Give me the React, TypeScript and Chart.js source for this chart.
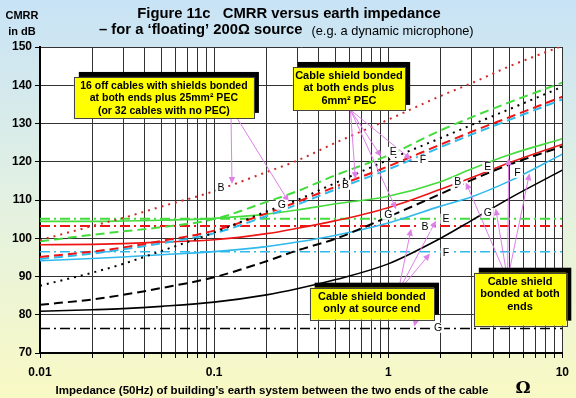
import React, { useEffect, useRef } from 'react';
import { Chart, registerables } from 'chart.js';

Chart.register(...registerables);

// ---------- data ----------
const impedance = [0.01, 0.02, 0.03, 0.05, 0.1, 0.2, 0.3, 0.5, 1, 2, 3, 5, 10];

// 16 off cables bonded at both ends plus 25mm² PEC (dotted)
const pec25B = [99.5, 103.2, 105.3, 108.3, 112.3, 117.3, 120.3, 125, 131, 137.2, 140.5, 145, 150.3];
const pec25G = [87.6, 91, 93.3, 96.7, 101.5, 107, 110, 114.5, 120.5, 126.2, 129.6, 133.8, 139.6];

// Cable shield bonded at both ends plus 6mm² PEC (dashed)
const pec6E = [99.2, 100.9, 101.8, 102.9, 105, 109.5, 112.3, 116.5, 121.7, 128.2, 131.6, 135.6, 140.7];
const pec6B = [95.1, 96.5, 97.6, 99.3, 102, 106.5, 109.5, 113.5, 118.8, 124.5, 127.8, 131.7, 137];
const pec6F = [94.6, 96, 97.1, 98.7, 101.3, 105.8, 108.8, 112.8, 118, 123.8, 127.1, 131, 136.3];
const pec6G = [82.6, 84, 85.2, 87, 89.8, 94, 96.8, 99.9, 105.6, 111.6, 115.2, 119.3, 124];

// Cable shield bonded at both ends (solid)
const bothE = [104.4, 104.4, 104.5, 104.7, 105.2, 106.3, 107.4, 109, 111, 114.8, 118.1, 121.9, 126];
const bothB = [98.3, 98.4, 98.6, 99, 99.6, 101.2, 102.6, 104.6, 108, 112.8, 115.8, 119.8, 124.6];
const bothF = [94.1, 94.7, 95.1, 95.7, 96.5, 97.8, 99, 100.8, 104, 108.4, 110.8, 115, 122];
const bothG = [80.9, 81.3, 81.6, 82.2, 83.3, 85.2, 86.8, 89.2, 93.3, 100, 104.6, 110.5, 117.8];

// Cable shield bonded only at source end (dash-dot)
const srcE = [105.1, 105.1, 105.1, 105.1, 105.1, 105.1, 105.1, 105.1, 105.1, 105.1, 105.1, 105.1, 105.1];
const srcB = [103.2, 103.2, 103.2, 103.2, 103.2, 103.2, 103.2, 103.2, 103.2, 103.2, 103.2, 103.2, 103.2];
const srcF = [96.5, 96.5, 96.5, 96.5, 96.5, 96.5, 96.5, 96.5, 96.5, 96.5, 96.5, 96.5, 96.5];
const srcG = [76.4, 76.4, 76.4, 76.4, 76.4, 76.4, 76.4, 76.4, 76.4, 76.4, 76.4, 76.4, 76.4];

const xTickValues = [
  0.01, 0.02, 0.03, 0.04, 0.05, 0.06, 0.07, 0.08, 0.09,
  0.1, 0.2, 0.3, 0.4, 0.5, 0.6, 0.7, 0.8, 0.9,
  1, 2, 3, 4, 5, 6, 7, 8, 9, 10,
];
const xTickLabelValues = [0.01, 0.1, 1, 10];
const xTickLabels = ['0.01', '0.1', '1', '10'];

// annotation boxes: [zLeft, zRight, dBTop, dBBottom]
const boxes = [
  { area: [0.01564, 0.1693, 142.17, 131.46], lines: ['16 off cables with shields bonded', 'at both ends plus 25mm\u00B2 PEC', '(or 32 cables with no PEC)'], size: 10.5 },
  { area: [0.2828, 1.251, 144.78, 133.55], lines: ['Cable shield bonded', 'at both ends plus', '6mm\u00B2 PEC'], size: 11 },
  { area: [0.3537, 1.832, 87.08, 78.72], lines: ['Cable shield bonded', 'only at source end'], size: 11 },
  { area: [3.1, 10.54, 90.99, 77.15], lines: ['Cable shield', 'bonded at both', 'ends'], size: 11 },
];

// arrows: [fromZ, fromDB, toZ, toDB]
const arrows = [
  [0.1251, 131.46, 0.1267, 114.2],
  [0.1353, 131.46, 0.2683, 109.5],
  [0.6066, 133.55, 0.912, 121.3],
  [0.6066, 133.55, 1.353, 120.6],
  [0.6066, 133.55, 0.6478, 115.5],
  [0.6066, 133.55, 1.111, 107.6],
  [1.141, 86.03, 1.881, 104.6],
  [1.141, 86.03, 1.353, 102.5],
  [1.141, 86.03, 1.738, 96.0],
  [1.445, 78.72, 1.408, 76.9],
  [4.85, 89.16, 4.914, 121.0],
  [4.85, 89.16, 2.791, 114.6],
  [4.85, 89.16, 6.478, 117.0],
  [4.85, 89.16, 4.141, 107.8],
];

// line letters: [text, z, dB]
const letters: [string, number, number][] = [
  ['B', 0.1097, 113.2],
  ['G', 0.2446, 108.75],
  ['B', 0.568, 113.97],
  ['E', 1.068, 122.58],
  ['F', 1.585, 120.5],
  ['G', 1.0, 106.14],
  ['E', 3.728, 118.67],
  ['B', 2.512, 114.75],
  ['F', 5.533, 117.1],
  ['G', 3.728, 106.66],
  ['E', 2.145, 105.1],
  ['B', 1.627, 103.0],
  ['F', 2.145, 96.2],
  ['G', 1.931, 76.6],
];

// ---------- styles ----------
const FONT = '"Liberation Sans", Arial, sans-serif';
const GREEN = '#44dc3c';
const RED = '#ee1515';
const RED_DOT = '#d02a2a';
const CYAN = '#2fb9ec';
const BLACK = '#000000';
const ARROW = '#de7fe8';
const DOTTED = [2, 5];
const DASHED = [9, 5];
const DASHDOT = [10, 4, 2, 4];

const series = [
  { d: pec25B, c: RED_DOT, dash: DOTTED, w: 2 },
  { d: pec25G, c: BLACK, dash: DOTTED, w: 2 },
  { d: pec6E, c: GREEN, dash: DASHED, w: 2 },
  { d: pec6B, c: RED, dash: DASHED, w: 2 },
  { d: pec6F, c: CYAN, dash: DASHED, w: 2 },
  { d: pec6G, c: BLACK, dash: DASHED, w: 2 },
  { d: bothE, c: GREEN, dash: [], w: 1.6 },
  { d: bothB, c: RED, dash: [], w: 1.6 },
  { d: bothF, c: CYAN, dash: [], w: 1.6 },
  { d: bothG, c: BLACK, dash: [], w: 1.6 },
  { d: srcE, c: GREEN, dash: DASHDOT, w: 2 },
  { d: srcB, c: RED, dash: DASHDOT, w: 2 },
  { d: srcF, c: CYAN, dash: DASHDOT, w: 1.5 },
  { d: srcG, c: BLACK, dash: DASHDOT, w: 1.5 },
];

function drawArrow(ctx: CanvasRenderingContext2D, x1: number, y1: number, x2: number, y2: number) {
  const ang = Math.atan2(y2 - y1, x2 - x1);
  const L = 7, W = 3.2;
  ctx.strokeStyle = ARROW;
  ctx.fillStyle = ARROW;
  ctx.lineWidth = 1;
  ctx.setLineDash([]);
  ctx.beginPath();
  ctx.moveTo(x1, y1);
  ctx.lineTo(x2 - (L - 1) * Math.cos(ang), y2 - (L - 1) * Math.sin(ang));
  ctx.stroke();
  ctx.beginPath();
  ctx.moveTo(x2, y2);
  ctx.lineTo(x2 - L * Math.cos(ang) + W * Math.sin(ang), y2 - L * Math.sin(ang) - W * Math.cos(ang));
  ctx.lineTo(x2 - L * Math.cos(ang) - W * Math.sin(ang), y2 - L * Math.sin(ang) + W * Math.cos(ang));
  ctx.closePath();
  ctx.fill();
}

const backgroundPlugin = {
  id: 'bgTitles',
  beforeDraw(chart: any) {
    const { ctx, width, height, chartArea: a } = chart;
    ctx.save();
    const g = ctx.createLinearGradient(0, 0, 0, height);
    g.addColorStop(0, '#c8e3f6');
    g.addColorStop(0.5, '#e3f1e2');
    g.addColorStop(1, '#f9f9c4');
    ctx.fillStyle = g;
    ctx.fillRect(0, 0, width, height);
    ctx.fillStyle = '#ffffff';
    ctx.fillRect(a.left, a.top, a.right - a.left, a.bottom - a.top);

    ctx.fillStyle = '#000';
    ctx.textBaseline = 'middle';
    ctx.textAlign = 'center';
    ctx.font = `bold 14.8px ${FONT}`;
    ctx.fillText('Figure 11c   CMRR versus earth impedance', 289, 14);
    ctx.textAlign = 'left';
    const t1 = '\u2013 for a \u2018floating\u2019 200\u03A9 source';
    ctx.fillText(t1, 99, 30);
    const w1 = ctx.measureText(t1).width;
    ctx.font = `12.8px ${FONT}`;
    ctx.fillText('(e.g. a dynamic microphone)', 99 + w1 + 9, 31);
    ctx.textAlign = 'center';
    ctx.font = `bold 11px ${FONT}`;
    ctx.fillText('CMRR', 22, 16);
    ctx.fillText('in dB', 22, 32);

    ctx.font = `bold 11.5px ${FONT}`;
    ctx.fillText("Impedance (50Hz) of building\u2019s earth system between the two ends of the cable", 272, 391);
    ctx.font = `bold 17px "DejaVu Serif", "Liberation Serif", serif`;
    ctx.fillText('\u03A9', 523, 389);
    ctx.restore();
  },
};

const annotationPlugin = {
  id: 'annotations',
  afterDatasetsDraw(chart: any) {
    const { ctx } = chart;
    const xs = chart.scales.x, ys = chart.scales.y;
    const X = (v: number) => xs.getPixelForValue(v);
    const Y = (v: number) => ys.getPixelForValue(v);
    ctx.save();
    for (const [fz, fv, tz, tv] of arrows) drawArrow(ctx, X(fz), Y(fv), X(tz), Y(tv));

    for (const b of boxes) {
      const [z0, z1, vt, vb] = b.area;
      const l = X(z0), r = X(z1), t = Y(vt), bt = Y(vb);
      ctx.fillStyle = '#000';
      ctx.fillRect(l + 5, t - 5, r - l, bt - t);
      ctx.fillStyle = '#ffff00';
      ctx.fillRect(l, t, r - l, bt - t);
      ctx.strokeStyle = '#444';
      ctx.lineWidth = 1;
      ctx.strokeRect(Math.round(l) + 0.5, Math.round(t) + 0.5, Math.round(r - l), Math.round(bt - t));
      ctx.fillStyle = '#000';
      ctx.font = `bold ${b.size}px ${FONT}`;
      ctx.textAlign = 'center';
      ctx.textBaseline = 'middle';
      b.lines.forEach((s, i) => ctx.fillText(s, (l + r) / 2, t + 9 + i * 12.5));
    }

    ctx.font = `10.5px ${FONT}`;
    ctx.textAlign = 'center';
    ctx.textBaseline = 'middle';
    for (const [s, z, v] of letters) {
      const px = X(z), py = Y(v);
      const w = ctx.measureText(s).width;
      ctx.fillStyle = '#fff';
      ctx.fillRect(px - w / 2 - 2, py - 5, w + 4, 10);
      ctx.fillStyle = '#000';
      ctx.fillText(s, px, py + 0.5);
    }
    ctx.restore();
  },
};

export default function App() {
  const ref = useRef<HTMLCanvasElement | null>(null);
  useEffect(() => {
    if (!ref.current) return;
    const datasets = series.map((s) => ({
      data: impedance.map((z, i) => ({ x: z, y: s.d[i] })),
      borderColor: s.c,
      backgroundColor: s.c,
      borderWidth: s.w,
      borderDash: s.dash,
      pointRadius: 0,
      fill: false,
      cubicInterpolationMode: 'monotone' as const,
    }));
    const chart = new Chart(ref.current, {
      type: 'line',
      data: { datasets },
      options: {
        animation: false,
        responsive: false,
        devicePixelRatio: 1,
        layout: { padding: { top: 47, right: 11, left: 0, bottom: 0 } },
        plugins: { legend: { display: false }, tooltip: { enabled: false } },
        scales: {
          x: {
            type: 'logarithmic',
            min: 0.01,
            max: 10,
            afterBuildTicks: (scale: any) => {
              scale.ticks = xTickValues.map((v) => ({ value: v }));
            },
            afterFit: (scale: any) => {
              scale.height = 45;
            },
            ticks: {
              autoSkip: false,
              maxRotation: 0,
              padding: 7,
              color: '#000',
              font: { family: FONT, size: 12, weight: 'bold' },
              callback: (v: any) => {
                const idx = xTickLabelValues.findIndex((d) => Math.abs(d - Number(v)) < 1e-9);
                return idx >= 0 ? xTickLabels[idx] : '';
              },
            },
            grid: { color: '#333', lineWidth: 1, tickLength: 5, tickColor: '#000' },
            border: { color: '#000', width: 2 },
          },
          y: {
            min: 70,
            max: 150,
            afterFit: (scale: any) => {
              scale.width = 40;
            },
            ticks: {
              stepSize: 10,
              padding: 3,
              color: '#000',
              font: { family: FONT, size: 12, weight: 'bold' },
            },
            grid: { color: '#333', lineWidth: 1, tickLength: 5, tickColor: '#000' },
            border: { color: '#000', width: 2 },
          },
        },
      } as any,
      plugins: [backgroundPlugin, annotationPlugin],
    });
    return () => chart.destroy();
  }, []);
  return (
    <div style={{ position: 'absolute', left: 0, top: 0, width: 576, height: 398 }}>
      <canvas ref={ref} width={576} height={398} style={{ display: 'block' }} />
    </div>
  );
}
